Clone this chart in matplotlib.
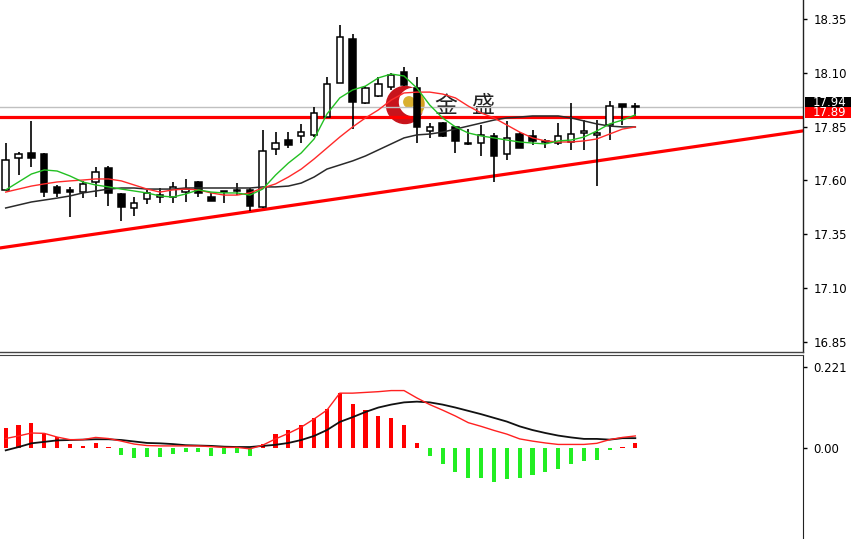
import matplotlib
matplotlib.use("Agg")
import matplotlib.pyplot as plt
import matplotlib.transforms as mtransforms
from matplotlib.patches import Rectangle, Circle, Wedge
import numpy as np

# ---------------- data ----------------
opens = [17.555, 17.704, 17.727, 17.722, 17.569, 17.555, 17.545, 17.592, 17.657, 17.536,
         17.471, 17.513, 17.522, 17.522, 17.545, 17.592, 17.522, 17.545, 17.550, 17.555,
         17.476, 17.745, 17.787, 17.806, 17.811, 17.894, 18.052, 18.257, 17.959, 17.992,
         18.034, 18.104, 18.029, 17.829, 17.866, 17.848, 17.769, 17.773, 17.806, 17.722,
         17.815, 17.806, 17.778, 17.773, 17.778, 17.820, 17.811, 17.857, 17.955, 17.945]
highs = [17.773, 17.731, 17.876, 17.727, 17.578, 17.569, 17.597, 17.662, 17.666, 17.541,
         17.522, 17.555, 17.564, 17.592, 17.606, 17.597, 17.541, 17.550, 17.587, 17.564,
         17.834, 17.824, 17.824, 17.862, 17.941, 18.080, 18.322, 18.280, 18.038, 18.080,
         18.099, 18.127, 18.080, 17.866, 17.871, 17.852, 17.838, 17.857, 17.820, 17.876,
         17.824, 17.834, 17.792, 17.866, 17.959, 17.880, 17.880, 17.969, 17.955, 17.959]
lows = [17.550, 17.624, 17.662, 17.522, 17.522, 17.429, 17.517, 17.522, 17.480, 17.411,
        17.434, 17.490, 17.494, 17.494, 17.499, 17.522, 17.504, 17.494, 17.531, 17.457,
        17.471, 17.717, 17.750, 17.773, 17.801, 17.894, 18.052, 17.838, 17.955, 17.987,
        18.020, 18.038, 17.773, 17.797, 17.801, 17.727, 17.764, 17.713, 17.592, 17.694,
        17.750, 17.764, 17.750, 17.764, 17.741, 17.741, 17.573, 17.787, 17.857, 17.899]
closes = [17.694, 17.722, 17.704, 17.545, 17.541, 17.545, 17.583, 17.638, 17.541, 17.476,
          17.494, 17.541, 17.531, 17.569, 17.559, 17.541, 17.504, 17.548, 17.555, 17.480,
          17.736, 17.773, 17.764, 17.824, 17.913, 18.048, 18.266, 17.964, 18.029, 18.048,
          18.090, 18.043, 17.848, 17.848, 17.806, 17.783, 17.771, 17.811, 17.713, 17.797,
          17.750, 17.783, 17.783, 17.806, 17.815, 17.829, 17.820, 17.945, 17.941, 17.940]

ma_fast = [17.555, 17.592, 17.629, 17.648, 17.643, 17.620, 17.592, 17.578, 17.569, 17.559,
           17.550, 17.541, 17.527, 17.522, 17.536, 17.555, 17.545, 17.541, 17.541, 17.531,
           17.559, 17.624, 17.680, 17.727, 17.792, 17.908, 17.983, 18.020, 18.038, 18.076,
           18.094, 18.085, 18.029, 17.950, 17.890, 17.848, 17.820, 17.806, 17.797, 17.787,
           17.778, 17.773, 17.769, 17.783, 17.787, 17.801, 17.829, 17.862, 17.880, 17.904]
ma_mid = [17.545, 17.559, 17.573, 17.583, 17.592, 17.597, 17.601, 17.606, 17.606, 17.597,
          17.578, 17.559, 17.545, 17.555, 17.559, 17.555, 17.541, 17.531, 17.531, 17.541,
          17.564, 17.583, 17.615, 17.652, 17.699, 17.750, 17.801, 17.848, 17.890, 17.927,
          17.973, 18.006, 18.010, 18.010, 18.001, 17.983, 17.945, 17.913, 17.890, 17.857,
          17.824, 17.797, 17.783, 17.778, 17.778, 17.783, 17.792, 17.815, 17.838, 17.848]
ma_slow = [17.471, 17.485, 17.499, 17.508, 17.517, 17.527, 17.541, 17.550, 17.559, 17.564,
           17.564, 17.559, 17.559, 17.559, 17.564, 17.564, 17.564, 17.564, 17.564, 17.564,
           17.569, 17.569, 17.573, 17.587, 17.615, 17.652, 17.671, 17.690, 17.713, 17.741,
           17.769, 17.797, 17.811, 17.815, 17.824, 17.838, 17.852, 17.866, 17.880, 17.890,
           17.894, 17.899, 17.899, 17.899, 17.890, 17.876, 17.862, 17.852, 17.848, 17.848]

macd_hist = [0.055, 0.064, 0.068, 0.043, 0.030, 0.011, 0.007, 0.016, 0.004, -0.018,
             -0.027, -0.024, -0.024, -0.015, -0.010, -0.010, -0.020, -0.015, -0.013, -0.020,
             0.012, 0.039, 0.050, 0.064, 0.083, 0.107, 0.150, 0.121, 0.104, 0.088,
             0.082, 0.064, 0.016, -0.020, -0.042, -0.063, -0.079, -0.079, -0.092, -0.083,
             -0.079, -0.072, -0.063, -0.056, -0.042, -0.034, -0.031, -0.005, 0.005, 0.015]
macd_red = [0.027, 0.034, 0.042, 0.041, 0.031, 0.024, 0.024, 0.030, 0.027, 0.020,
            0.012, 0.008, 0.007, 0.007, 0.007, 0.007, 0.005, 0.003, 0.003, -0.001,
            0.009, 0.026, 0.041, 0.058, 0.080, 0.104, 0.150, 0.150, 0.152, 0.154,
            0.157, 0.157, 0.137, 0.119, 0.104, 0.088, 0.070, 0.060, 0.049, 0.039,
            0.026, 0.020, 0.015, 0.011, 0.011, 0.011, 0.014, 0.024, 0.030, 0.034]
macd_black = [-0.005, 0.004, 0.014, 0.018, 0.022, 0.023, 0.024, 0.025, 0.025, 0.023,
              0.019, 0.015, 0.014, 0.012, 0.009, 0.008, 0.007, 0.005, 0.004, 0.004,
              0.007, 0.010, 0.015, 0.023, 0.034, 0.050, 0.072, 0.085, 0.099, 0.111,
              0.119, 0.125, 0.127, 0.125, 0.119, 0.111, 0.102, 0.093, 0.083, 0.073,
              0.060, 0.050, 0.042, 0.035, 0.030, 0.026, 0.026, 0.024, 0.028, 0.028]

price_ticks = [18.35, 18.10, 17.85, 17.60, 17.35, 17.10, 16.85]
price_tick_labels = ["18.35", "18.10", "17.85", "17.60", "17.35", "17.10", "16.85"]
macd_ticks = [0.221, 0.0]
macd_tick_labels = ["0.221", "0.00"]

current_price = 17.94
current_label = "17.94"
level_price = 17.895
level_label = "17.89"
trend_idx = [0, 49]
trend_price = [17.289, 17.716]
watermark = ["金", "盛"]

# ---------------- figure ----------------
W, H = 854, 539
fig = plt.figure(figsize=(W / 100, H / 100), dpi=100)
fig.patch.set_facecolor("white")

# pixel overlay (for logo / watermark), behind everything
bg = fig.add_axes([0, 0, 1, 1], zorder=0)
bg.set_xlim(0, W)
bg.set_ylim(H, 0)
bg.axis("off")

right_px = 803
main_bottom_px = 352
macd_top_px = 355

ax = fig.add_axes([0, 1 - main_bottom_px / H, right_px / W, main_bottom_px / H], zorder=1)
ax.patch.set_visible(False)
ax2 = fig.add_axes([0, 0, right_px / W, 1 - macd_top_px / H], zorder=1)
ax2.patch.set_visible(False)

n = len(closes)
x = np.arange(n)
xlim = (-0.444, 62.05)

# watermark logo
bg.add_patch(Circle((405, 105), 18.5, color="#c8141c", zorder=1))
bg.add_patch(Circle((413, 102), 13.5, color="white", zorder=2))
bg.add_patch(Wedge((410, 104), 14, 300, 60, width=3.2, color="#d4a020", zorder=3))
bg.add_patch(Circle((409, 102), 5.2, color="#d9b030", zorder=4))
bg.text(446, 106, watermark[0], fontsize=16.5, color="#222222", ha="center", va="center",
        family=["Noto Sans CJK SC", "DejaVu Sans"], zorder=5)
bg.text(483.5, 106, watermark[1], fontsize=16.5, color="#222222", ha="center", va="center",
        family=["Noto Sans CJK SC", "DejaVu Sans"], zorder=5)

# ---------------- main price panel ----------------
ax.axhline(current_price, color="#c0c0c0", lw=1.0, zorder=1)
ax.axhline(level_price, color="#ff0000", lw=2.3, zorder=2)
ax.axline((trend_idx[0], trend_price[0]), (trend_idx[1], trend_price[1]),
          color="#ff0000", lw=2.3, zorder=2)

o = np.array(opens); c = np.array(closes); hi = np.array(highs); lo = np.array(lows)
ax.vlines(x, lo, hi, color="black", lw=1.2, zorder=3)
bottoms = np.minimum(o, c)
heights = np.maximum(np.abs(c - o), 0.0015)
faces = ["white" if cc >= oo else "black" for oo, cc in zip(o, c)]
ax.bar(x, heights, bottom=bottoms, width=0.5, color=faces, edgecolor="black",
       linewidth=1.1, zorder=4)

ax.plot(x, ma_slow, color="#2a2a2a", lw=1.1, zorder=5)
ax.plot(x, ma_mid, color="#ff2a2a", lw=1.0, zorder=5)
ax.plot(x, ma_fast, color="#22c022", lw=1.0, zorder=5)

ax.set_xlim(*xlim)
ax.set_ylim(16.8012, 18.4384)
ax.set_xticks([])
ax.yaxis.tick_right()
ax.set_yticks(price_ticks)
ax.set_yticklabels(price_tick_labels)
ax.tick_params(axis="y", direction="out", length=3, width=1, pad=4.5,
               labelsize=8.5, colors="black")
for s in ["left", "top"]:
    ax.spines[s].set_visible(False)
ax.spines["right"].set_color("#222222")
ax.spines["bottom"].set_color("#444444")
ax.spines["right"].set_linewidth(1)
ax.spines["bottom"].set_linewidth(1)

# price labels on the right axis
blend = mtransforms.blended_transform_factory(ax.transAxes, ax.transData)
box_w = 46 / right_px
for price, txt, col in [(current_price, current_label, "black"),
                        (level_price, level_label, "#ff0000")]:
    tr = mtransforms.offset_copy(blend, fig=fig, x=0, y=4.5, units="dots")
    ax.add_patch(Rectangle((1.0 + 2 / right_px, price - 5.5 * 0.0046512), box_w, 11 * 0.0046512,
                           transform=tr, facecolor=col, edgecolor="none", clip_on=False,
                           zorder=10))
    ax.text(1.0 + 10 / right_px, price, txt, transform=tr, color="white", fontsize=8.5,
            ha="left", va="center", clip_on=False, zorder=11)

# ---------------- MACD panel ----------------
hist = np.array(macd_hist)
bar_cols = ["#ff0000" if v >= 0 else "#22ee22" for v in hist]
ax2.bar(x, hist, width=0.32, color=bar_cols, zorder=2)
ax2.plot(x, macd_black, color="#111111", lw=1.3, zorder=3)
ax2.plot(x, macd_red, color="#ff2020", lw=1.0, zorder=3)

ax2.set_xlim(*xlim)
ax2.set_ylim(-0.2453, 0.2534)
ax2.set_xticks([])
ax2.yaxis.tick_right()
ax2.set_yticks(macd_ticks)
ax2.set_yticklabels(macd_tick_labels)
ax2.tick_params(axis="y", direction="out", length=3, width=1, pad=4.5,
                labelsize=8.5, colors="black")
for s in ["left", "bottom"]:
    ax2.spines[s].set_visible(False)
ax2.spines["right"].set_color("#222222")
ax2.spines["top"].set_color("#444444")

fig.savefig("out.png", dpi=100, facecolor="white")
